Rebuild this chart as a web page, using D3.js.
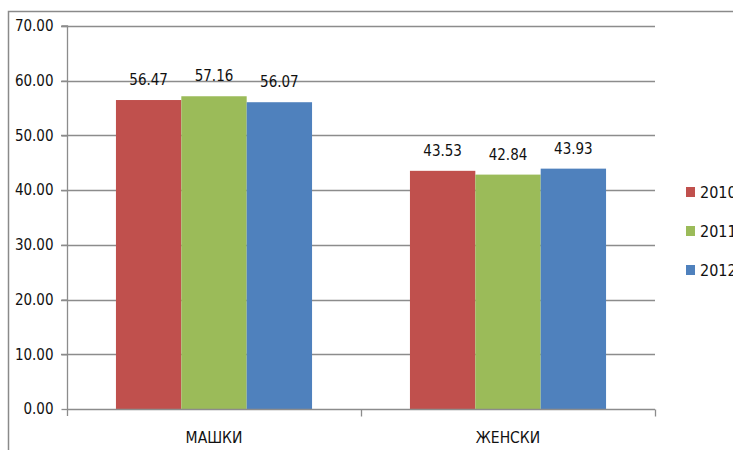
<!DOCTYPE html>
<html>
<head>
<meta charset="utf-8">
<script src="https://cdn.jsdelivr.net/npm/d3@7"></script>
<style>
  html, body { margin: 0; padding: 0; background: #fff; overflow: hidden; }
  svg { display: block; }
  text { font-family: "DejaVu Sans Condensed", "Liberation Sans Narrow", "Open Sans", sans-serif; fill: #111; }
</style>
</head>
<body>
<svg id="chart" width="733" height="450"></svg>
<script>
// Categories, series and axis ticks
const categories = ["МАШКИ", "ЖЕНСКИ"];
const years = ["2010", "2011", "2012"];
const values2010 = [56.47, 43.53];
const values2011 = [57.16, 42.84];
const values2012 = [56.07, 43.93];
const yTicks = [0, 10, 20, 30, 40, 50, 60, 70];
const colors = ["#C0504D", "#9BBB59", "#4F81BD"];

const seriesValues = [values2010, values2011, values2012];

const svg = d3.select("#chart");
const W = 733, H = 450;
const plot = { left: 67, right: 655, top: 26, bottom: 409 };
const fontStack = "'DejaVu Sans Condensed', 'Liberation Sans Narrow', sans-serif";

// Outer frame (left and top edges are visible)
svg.append("path")
  .attr("d", `M8.5,${H} V11.5 H${W}`)
  .attr("fill", "none").attr("stroke", "#8a8a8a").attr("stroke-width", 1.5);

const y = d3.scaleLinear().domain([0, 70]).range([plot.bottom, plot.top]);
const x0 = d3.scaleBand().domain(categories).range([plot.left, plot.right]);
const x1 = d3.scaleBand().domain(years).range([0, x0.bandwidth() * 0.667]);
const groupOffset = (x0.bandwidth() - x1.range()[1]) / 2;

// Horizontal gridlines
svg.append("g").selectAll("line").data(yTicks.filter(t => t > 0)).join("line")
  .attr("x1", plot.left - 6).attr("x2", plot.right)
  .attr("y1", d => Math.round(y(d)) + 0.5).attr("y2", d => Math.round(y(d)) + 0.5)
  .attr("stroke", "#8c8c8c").attr("stroke-width", 1.3);

// Bars with value labels
const groups = svg.append("g").selectAll("g").data(categories).join("g")
  .attr("transform", c => `translate(${x0(c) + groupOffset},0)`);

groups.each(function(c, ci) {
  const g = d3.select(this);
  years.forEach((yr, si) => {
    const v = seriesValues[si][ci];
    g.append("rect")
      .attr("x", x1(yr)).attr("width", x1.bandwidth())
      .attr("y", y(v)).attr("height", y(0) - y(v))
      .attr("fill", colors[si]);
    g.append("text")
      .attr("x", x1(yr) + x1.bandwidth() / 2)
      .attr("y", y(v) - 15)
      .attr("text-anchor", "middle")
      .attr("font-size", 15)
      .text(v.toFixed(2));
  });
});

// Y axis
const yAxis = d3.axisLeft(y).tickValues(yTicks).tickSize(6).tickPadding(8)
  .tickFormat(d => d.toFixed(2));
const yg = svg.append("g").attr("transform", `translate(${plot.left + 0.5},0)`).call(yAxis);
yg.select(".domain").attr("stroke", "#8c8c8c").attr("stroke-width", 1.3)
  .attr("d", `M-6,${y(70)}H0V${y(0) + 7}`);
yg.selectAll(".tick line").attr("stroke", "#8c8c8c").attr("stroke-width", 1.3);
yg.selectAll(".tick text").attr("font-size", 15).attr("fill", "#111")
  .style("font-family", fontStack);

// X axis
const xAxis = d3.axisBottom(x0).tickSize(0).tickPadding(22);
const xg = svg.append("g").attr("transform", `translate(0,${Math.round(y(0)) + 0.5})`).call(xAxis);
xg.select(".domain").attr("stroke", "#8c8c8c").attr("stroke-width", 1.3)
  .attr("d", `M${plot.left},0H${plot.right}`);
xg.selectAll(".tick text").attr("font-size", 15.5).attr("fill", "#111")
  .style("font-family", fontStack);
// Category separators
const seps = [x0(categories[1]), plot.right];
xg.selectAll("line.sep").data(seps).join("line").attr("class", "sep")
  .attr("x1", d => Math.round(d) + 0.5).attr("x2", d => Math.round(d) + 0.5)
  .attr("y1", 0).attr("y2", 7)
  .attr("stroke", "#8c8c8c").attr("stroke-width", 1.3);

// Legend
const legend = svg.append("g").attr("transform", "translate(686,192)");
const li = legend.selectAll("g").data(years).join("g")
  .attr("transform", (d, i) => `translate(0,${i * 39})`);
li.append("rect").attr("x", 0).attr("y", -5).attr("width", 9).attr("height", 10)
  .attr("fill", (d, i) => colors[i]);
li.append("text").attr("x", 14).attr("y", 6).attr("font-size", 16).text(d => d);
</script>
</body>
</html>
